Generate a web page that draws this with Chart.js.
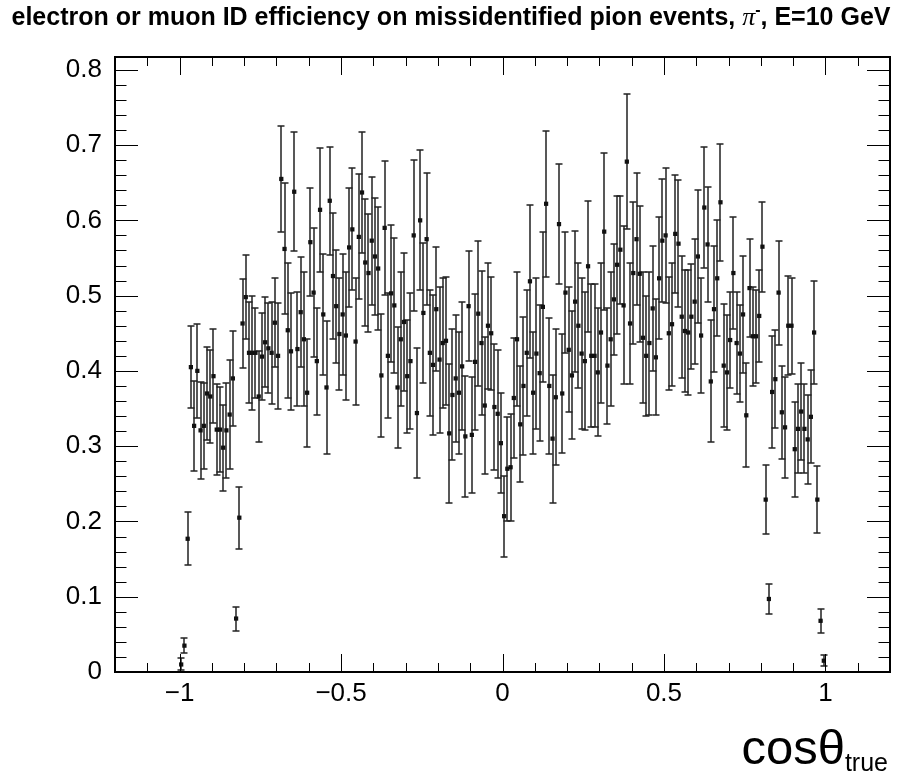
<!DOCTYPE html>
<html>
<head>
<meta charset="utf-8">
<script src="https://cdn.jsdelivr.net/npm/chart.js@4"></script>
<style>
  html, body { margin: 0; padding: 0; background: #fff; }
  canvas { display: block; }
</style>
</head>
<body>
<canvas id="myChart" width="903" height="772"></canvas>
<script>
// binning in cos(theta_true): 200 bins of 0.01 from -1 to 1
const binStart = -1.0;
const binWidth = 0.01;

// efficiency per bin
const effValues = [
  0.010, 0.035, 0.177, 0.405, 0.327, 0.400, 0.321, 0.327, 0.370, 0.366,
  0.393, 0.322, 0.322, 0.298, 0.321, 0.342, 0.390, 0.071, 0.205, 0.463,
  0.498, 0.424, 0.424, 0.424, 0.366, 0.419, 0.438, 0.430, 0.424, 0.464,
  0.420, 0.655, 0.562, 0.454, 0.426, 0.638, 0.429, 0.478, 0.442, 0.371,
  0.571, 0.504, 0.413, 0.614, 0.475, 0.378, 0.626, 0.526, 0.486, 0.449,
  0.475, 0.447, 0.564, 0.588, 0.439, 0.578, 0.637, 0.544, 0.530, 0.573,
  0.552, 0.536, 0.394, 0.590, 0.420, 0.503, 0.487, 0.378, 0.442, 0.465,
  0.393, 0.413, 0.580, 0.344, 0.600, 0.477, 0.575, 0.424, 0.408, 0.482,
  0.415, 0.437, 0.440, 0.317, 0.368, 0.390, 0.371, 0.406, 0.313, 0.486,
  0.315, 0.412, 0.476, 0.437, 0.354, 0.460, 0.450, 0.352, 0.343, 0.304,
  0.207, 0.270, 0.272, 0.364, 0.442, 0.329, 0.380, 0.424, 0.519, 0.371,
  0.423, 0.397, 0.485, 0.622, 0.380, 0.310, 0.365, 0.595, 0.370, 0.504,
  0.428, 0.394, 0.492, 0.460, 0.423, 0.413, 0.539, 0.420, 0.420, 0.398,
  0.451, 0.585, 0.407, 0.442, 0.495, 0.541, 0.561, 0.487, 0.678, 0.463,
  0.530, 0.575, 0.529, 0.444, 0.420, 0.437, 0.483, 0.418, 0.523, 0.573,
  0.580, 0.450, 0.462, 0.582, 0.569, 0.472, 0.453, 0.451, 0.472, 0.492,
  0.552, 0.447, 0.617, 0.568, 0.386, 0.482, 0.523, 0.624, 0.407, 0.398,
  0.441, 0.530, 0.437, 0.423, 0.475, 0.341, 0.510, 0.446, 0.446, 0.473,
  0.565, 0.229, 0.097, 0.372, 0.389, 0.504, 0.345, 0.325, 0.460, 0.460,
  0.296, 0.323, 0.346, 0.323, 0.309, 0.339, 0.451, 0.229, 0.068, 0.015
];

// half length of the error bar per bin
const effErrors = [
  0.008, 0.010, 0.035, 0.054, 0.060, 0.062, 0.064, 0.057, 0.062, 0.062,
  0.062, 0.060, 0.056, 0.057, 0.063, 0.072, 0.063, 0.016, 0.041, 0.059,
  0.056, 0.067, 0.076, 0.060, 0.060, 0.058, 0.060, 0.060, 0.068, 0.059,
  0.070, 0.070, 0.087, 0.090, 0.078, 0.079, 0.076, 0.073, 0.089, 0.072,
  0.072, 0.086, 0.071, 0.082, 0.080, 0.088, 0.072, 0.084, 0.075, 0.075,
  0.080, 0.085, 0.079, 0.081, 0.084, 0.083, 0.080, 0.084, 0.078, 0.085,
  0.078, 0.082, 0.082, 0.089, 0.083, 0.091, 0.090, 0.080, 0.089, 0.092,
  0.075, 0.090, 0.100, 0.086, 0.093, 0.093, 0.088, 0.084, 0.093, 0.082,
  0.097, 0.086, 0.085, 0.092, 0.087, 0.084, 0.081, 0.085, 0.080, 0.073,
  0.077, 0.090, 0.096, 0.096, 0.091, 0.084, 0.075, 0.084, 0.085, 0.066,
  0.054, 0.069, 0.071, 0.080, 0.089, 0.077, 0.092, 0.084, 0.102, 0.081,
  0.100, 0.090, 0.100, 0.097, 0.090, 0.085, 0.090, 0.080, 0.079, 0.080,
  0.083, 0.085, 0.094, 0.083, 0.100, 0.092, 0.087, 0.095, 0.095, 0.085,
  0.093, 0.104, 0.077, 0.089, 0.074, 0.092, 0.072, 0.105, 0.090, 0.080,
  0.094, 0.088, 0.090, 0.087, 0.080, 0.095, 0.083, 0.077, 0.081, 0.082,
  0.090, 0.075, 0.082, 0.078, 0.084, 0.081, 0.081, 0.083, 0.070, 0.083,
  0.088, 0.076, 0.080, 0.076, 0.081, 0.084, 0.077, 0.078, 0.082, 0.076,
  0.064, 0.075, 0.068, 0.064, 0.078, 0.069, 0.065, 0.066, 0.062, 0.061,
  0.060, 0.046, 0.020, 0.074, 0.065, 0.069, 0.062, 0.067, 0.066, 0.064,
  0.063, 0.059, 0.064, 0.059, 0.059, 0.062, 0.068, 0.044, 0.016, 0.007
];

const xTicks = [-1, -0.5, 0, 0.5, 1];
const yTicks = [0, 0.1, 0.2, 0.3, 0.4, 0.5, 0.6, 0.7, 0.8];

const titleMain = "electron or muon ID efficiency on missidentified pion events, ";
const titleEnd = ", E=10 GeV";

const points = effValues.map((v, i) => ({ x: binStart + binWidth * (i + 0.5), y: v }));

// vertical error bars with end caps, drawn under the markers
const errorBars = {
  id: 'errorBars',
  beforeDatasetsDraw(chart) {
    const { ctx, scales: { x, y } } = chart;
    ctx.save();
    ctx.strokeStyle = '#222';
    ctx.lineWidth = 1.5;
    points.forEach((p, i) => {
      const px = Math.round(x.getPixelForValue(p.x));
      const top = Math.round(y.getPixelForValue(p.y + effErrors[i]));
      const bot = Math.round(y.getPixelForValue(Math.max(0, p.y - effErrors[i])));
      const py = Math.round(y.getPixelForValue(p.y));
      const hl = x.getPixelForValue(p.x - binWidth / 2);
      const hr = x.getPixelForValue(p.x + binWidth / 2);
      ctx.beginPath();
      ctx.moveTo(px, top); ctx.lineTo(px, bot);
      ctx.moveTo(px - 3.5, top); ctx.lineTo(px + 3.5, top);
      ctx.moveTo(px - 3.5, bot); ctx.lineTo(px + 3.5, bot);
      ctx.moveTo(hl, py); ctx.lineTo(hr, py);
      ctx.stroke();
    });
    ctx.restore();
  }
};

// ROOT style frame, inner ticks on all four sides, title and axis title
const rootFrame = {
  id: 'rootFrame',
  afterDraw(chart) {
    const { ctx, chartArea: a, scales: { x, y } } = chart;
    ctx.save();
    ctx.strokeStyle = '#000';
    ctx.lineWidth = 2;
    ctx.strokeRect(a.left, a.top, a.right - a.left, a.bottom - a.top);

    ctx.lineWidth = 1;
    ctx.beginPath();
    for (let k = -12; k <= 12; k++) {
      const px = Math.round(x.getPixelForValue(k / 10)) + 0.5;
      if (px <= a.left + 1 || px >= a.right - 1) continue;
      const len = k % 5 === 0 ? 18 : 9;
      ctx.moveTo(px, a.bottom); ctx.lineTo(px, a.bottom - len);
      ctx.moveTo(px, a.top); ctx.lineTo(px, a.top + len);
    }
    for (let k = 0; k <= 40; k++) {
      const v = k * 0.02;
      if (v > y.max) break;
      const py = Math.round(y.getPixelForValue(v)) + 0.5;
      if (py >= a.bottom - 1) continue;
      const len = k % 5 === 0 ? 23 : 11.5;
      ctx.moveTo(a.left, py); ctx.lineTo(a.left + len, py);
      ctx.moveTo(a.right, py); ctx.lineTo(a.right - len, py);
    }
    ctx.stroke();

    // title
    ctx.fillStyle = '#000';
    ctx.textBaseline = 'alphabetic';
    const tf = 'bold 25px "Liberation Sans", Arial, sans-serif';
    const pf = 'italic 26px "Liberation Serif", "DejaVu Serif", serif';
    const sf = 'bold 16px "Liberation Sans", Arial, sans-serif';
    ctx.font = tf; const w1 = ctx.measureText(titleMain).width;
    const w3 = ctx.measureText(titleEnd).width;
    ctx.font = pf; const w2 = ctx.measureText('\u03C0').width;
    ctx.font = sf; const ws = ctx.measureText('-').width;
    let tx = 451 - (w1 + w2 + ws + w3) / 2;
    const ty = 25;
    ctx.font = tf; ctx.fillText(titleMain, tx, ty); tx += w1;
    ctx.font = pf; ctx.fillText('\u03C0', tx, ty); tx += w2;
    ctx.font = sf; ctx.fillText('-', tx, ty - 10); tx += ws;
    ctx.font = tf; ctx.fillText(titleEnd, tx, ty);

    // x axis title: cos(theta) with subscript "true", right aligned
    const mf = '49px "Liberation Sans", Arial, sans-serif';
    const bf = '25px "Liberation Sans", Arial, sans-serif';
    ctx.font = mf; const wm = ctx.measureText('cos\u03B8').width;
    ctx.font = bf; const wb = ctx.measureText('true').width;
    const ax = a.right - 2 - wm - wb;
    ctx.font = mf; ctx.fillText('cos\u03B8', ax, 764);
    ctx.font = bf; ctx.fillText('true', ax + wm, 771);
    ctx.restore();
  }
};

new Chart(document.getElementById('myChart'), {
  type: 'scatter',
  data: {
    datasets: [{
      data: points,
      pointStyle: 'rect',
      pointRadius: 3,
      pointBackgroundColor: '#111',
      pointBorderWidth: 0,
      showLine: false
    }]
  },
  options: {
    responsive: false,
    animation: false,
    events: [],
    layout: { padding: { left: 0, right: 13, top: 57, bottom: 0 } },
    plugins: { legend: { display: false }, tooltip: { enabled: false }, title: { display: false } },
    scales: {
      x: {
        type: 'linear', min: -1.2, max: 1.2,
        afterBuildTicks: s => { s.ticks = xTicks.map(v => ({ value: v })); },
        afterFit: s => { s.height = 100; },
        grid: { display: false, drawTicks: false },
        border: { display: false },
        ticks: {
          padding: 6, color: '#000', maxRotation: 0,
          font: { family: '"Liberation Sans", Arial, sans-serif', size: 26 },
          callback: v => String(v).replace('-', '\u2212')
        }
      },
      y: {
        type: 'linear', min: 0, max: 0.817,
        afterBuildTicks: s => { s.ticks = yTicks.map(v => ({ value: v })); },
        afterFit: s => { s.width = 115; },
        grid: { display: false, drawTicks: false },
        border: { display: false },
        ticks: {
          padding: 13, color: '#000',
          font: { family: '"Liberation Sans", Arial, sans-serif', size: 26 },
          callback: v => String(v)
        }
      }
    }
  },
  plugins: [errorBars, rootFrame]
});
</script>
</body>
</html>
